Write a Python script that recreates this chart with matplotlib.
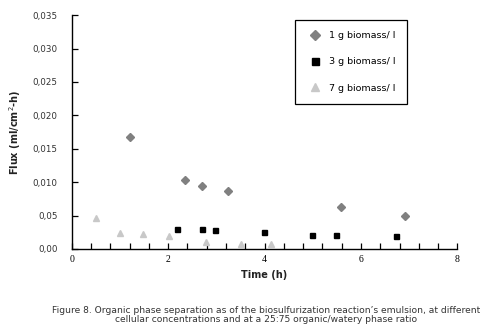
import numpy as np
from matplotlib import pyplot as plt
from matplotlib.ticker import FixedLocator

# 1 g biomass/ l
t_1g = [1.22, 2.35, 2.71, 3.24, 5.58, 6.92]
flux_1g = [0.0168, 0.0103, 0.0095, 0.0087, 0.0063, 0.0050]

# 3 g biomass/ l
t_3g = [2.19, 2.70, 2.98, 3.99, 4.98, 5.49, 6.73]
flux_3g = [0.0030, 0.0030, 0.0028, 0.0025, 0.0021, 0.0021, 0.0019]

# 7 g biomass/ l
t_7g = [0.51, 1.01, 1.48, 2.02, 2.78, 3.52, 4.14]
flux_7g = [0.0047, 0.0024, 0.0022, 0.0019, 0.0011, 0.0008, 0.0007]

y_ticks = [0.0, 0.005, 0.010, 0.015, 0.020, 0.025, 0.030, 0.035]
y_labels = ["0,00", "0,05", "0,010", "0,015", "0,020", "0,025", "0,030", "0,035"]
x_ticks = [0, 2, 4, 6, 8]

caption = ("Figure 8. Organic phase separation as of the biosulfurization reaction\u2019s emulsion, at different\n"
           "cellular concentrations and at a 25:75 organic/watery phase ratio")

plt.rcParams['font.family'] = ['DejaVu Sans']

fig = plt.figure(figsize=(4.81, 3.36), dpi=100)
ax = fig.add_axes([0.149, 0.259, 0.802, 0.696])

ax.plot(t_1g, flux_1g, ls='none', marker='D', ms=3.7, color='#808080', label='1 g biomass/ l')
ax.plot(t_3g, flux_3g, ls='none', marker='s', ms=3.6, color='black', label='3 g biomass/ l')
ax.plot(t_7g, flux_7g, ls='none', marker='^', ms=4.4, color='#c8c8c8', label='7 g biomass/ l')

ax.set_xlim(0, 8)
ax.set_ylim(0, 0.035)
ax.set_xticks(x_ticks)
ax.set_xticklabels([str(v) for v in x_ticks], family='Liberation Serif', fontsize=7)
ax.xaxis.set_minor_locator(FixedLocator(np.arange(0, 8.01, 0.4)))
ax.set_yticks(y_ticks)
ax.set_yticklabels(y_labels, fontsize=6.3, color='#333333')
ax.tick_params(axis='x', which='both', direction='in', length=4, width=0.9, pad=4)
ax.tick_params(axis='y', direction='in', length=4, width=0.9, pad=10)

for side in ['top', 'right']:
    ax.spines[side].set_visible(False)
for side in ['left', 'bottom']:
    ax.spines[side].set_linewidth(1.0)

ax.set_xlabel('Time (h)', fontsize=7, fontweight='bold', labelpad=5, color='#222222')
ax.set_ylabel('Flux (ml/cm$^{2}$-h)', fontsize=7, fontweight='bold', labelpad=7, color='#222222')

leg = ax.legend(loc='upper left', bbox_to_anchor=(295 / 481, 1 - 20 / 336),
                bbox_transform=fig.transFigure, fancybox=False, edgecolor='black',
                framealpha=1, fontsize=6.8, markerscale=1.4, labelspacing=1.85,
                borderpad=1.15, handletextpad=0.6, handlelength=1.9, borderaxespad=0)
leg.get_frame().set_linewidth(0.9)

fig.text(0.553, 1 - 315 / 336, caption, ha='center', va='center', fontsize=6.6,
         color='#333333', linespacing=1.1)

fig.savefig('out.png', dpi=100)
